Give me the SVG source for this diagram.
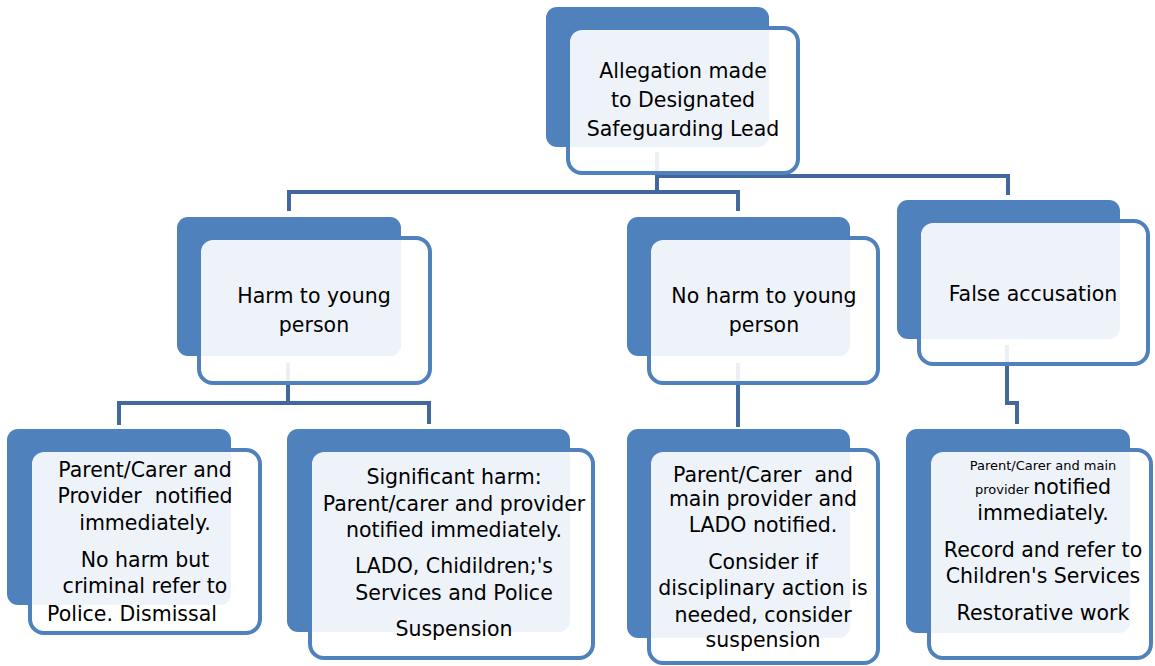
<svg xmlns="http://www.w3.org/2000/svg" width="1155" height="666" viewBox="0 0 1155 666">
<style>
.back{fill:#4F81BD}
.front{fill:#FFFFFF;fill-opacity:0.9;stroke:#4F81BD;stroke-width:4}
.t{font-family:"DejaVu Sans","Liberation Sans",sans-serif;font-size:20.5px;fill:#000;text-anchor:middle}
.s{font-size:13px}
.conn{fill:none;stroke:#41699E;stroke-width:4;stroke-linejoin:miter}
</style>
<rect width="1155" height="666" fill="#FFFFFF"/>
<g id="connectors">
<path class="conn" d="M657,152 V192"/>
<path class="conn" d="M289,211 V192 H738 V211"/>
<path class="conn" d="M657,152 V176 H1008 V195"/>
<path class="conn" d="M288,363 V403"/>
<path class="conn" d="M119,425 V403 H429 V424"/>
<path class="conn" d="M738,363 V427"/>
<path class="conn" d="M1007,345 V403 H1017 V424"/>
</g>
<g id="n-top">
<rect class="back" x="546" y="7" width="223" height="140" rx="11"/>
<rect class="front" x="568" y="28" width="230" height="145" rx="14"/>
<text class="t"><tspan x="683" y="78">Allegation made</tspan><tspan x="683" y="107">to Designated</tspan><tspan x="683" y="136">Safeguarding Lead</tspan></text>
</g>
<g id="n-harm">
<rect class="back" x="177" y="217" width="224" height="139" rx="11"/>
<rect class="front" x="199" y="238" width="231" height="145" rx="14"/>
<text class="t"><tspan x="314" y="303">Harm to young</tspan><tspan x="314" y="332">person</tspan></text>
</g>
<g id="n-noharm">
<rect class="back" x="627" y="217" width="223" height="139" rx="11"/>
<rect class="front" x="649" y="238" width="229" height="145" rx="14"/>
<text class="t"><tspan x="764" y="303">No harm to young</tspan><tspan x="764" y="332">person</tspan></text>
</g>
<g id="n-false">
<rect class="back" x="897" y="200" width="223" height="139" rx="11"/>
<rect class="front" x="919" y="221" width="229" height="143" rx="14"/>
<text class="t" x="1033" y="301">False accusation</text>
</g>
<g id="n-a">
<rect class="back" x="7" y="429" width="224" height="176" rx="11"/>
<rect class="front" x="30" y="450" width="230" height="183" rx="14"/>
<text class="t" xml:space="preserve"><tspan x="145" y="477">Parent/Carer and</tspan><tspan x="145" y="503">Provider  notified</tspan><tspan x="145" y="530">immediately.</tspan><tspan x="145" y="567">No harm but</tspan><tspan x="145" y="593">criminal refer to</tspan><tspan x="132" y="621">Police. Dismissal</tspan></text>
</g>
<g id="n-b">
<rect class="back" x="287" y="429" width="283" height="203" rx="11"/>
<rect class="front" x="310" y="450" width="283" height="208" rx="14"/>
<text class="t"><tspan x="454" y="484">Significant harm:</tspan><tspan x="454" y="511">Parent/carer and provider</tspan><tspan x="454" y="537">notified immediately.</tspan><tspan x="454" y="573">LADO, Chidildren;'s</tspan><tspan x="454" y="600">Services and Police</tspan><tspan x="454" y="636">Suspension</tspan></text>
</g>
<g id="n-c">
<rect class="back" x="627" y="429" width="223" height="209" rx="11"/>
<rect class="front" x="649" y="450" width="229" height="213" rx="14"/>
<text class="t" xml:space="preserve"><tspan x="763" y="482">Parent/Carer  and</tspan><tspan x="763" y="506">main provider and</tspan><tspan x="763" y="532">LADO notified.</tspan><tspan x="763" y="569">Consider if</tspan><tspan x="763" y="595">disciplinary action is</tspan><tspan x="763" y="622">needed, consider</tspan><tspan x="763" y="647">suspension</tspan></text>
</g>
<g id="n-d">
<rect class="back" x="906" y="429" width="224" height="204" rx="11"/>
<rect class="front" x="929" y="450" width="222" height="208" rx="14"/>
<text class="t"><tspan class="s" x="1043" y="470">Parent/Carer and main</tspan><tspan x="1043" y="494"><tspan class="s">provider </tspan>notified</tspan><tspan x="1043" y="520">immediately.</tspan><tspan x="1043" y="557">Record and refer to</tspan><tspan x="1043" y="583">Children's Services</tspan><tspan x="1043" y="620">Restorative work</tspan></text>
</g>
</svg>
